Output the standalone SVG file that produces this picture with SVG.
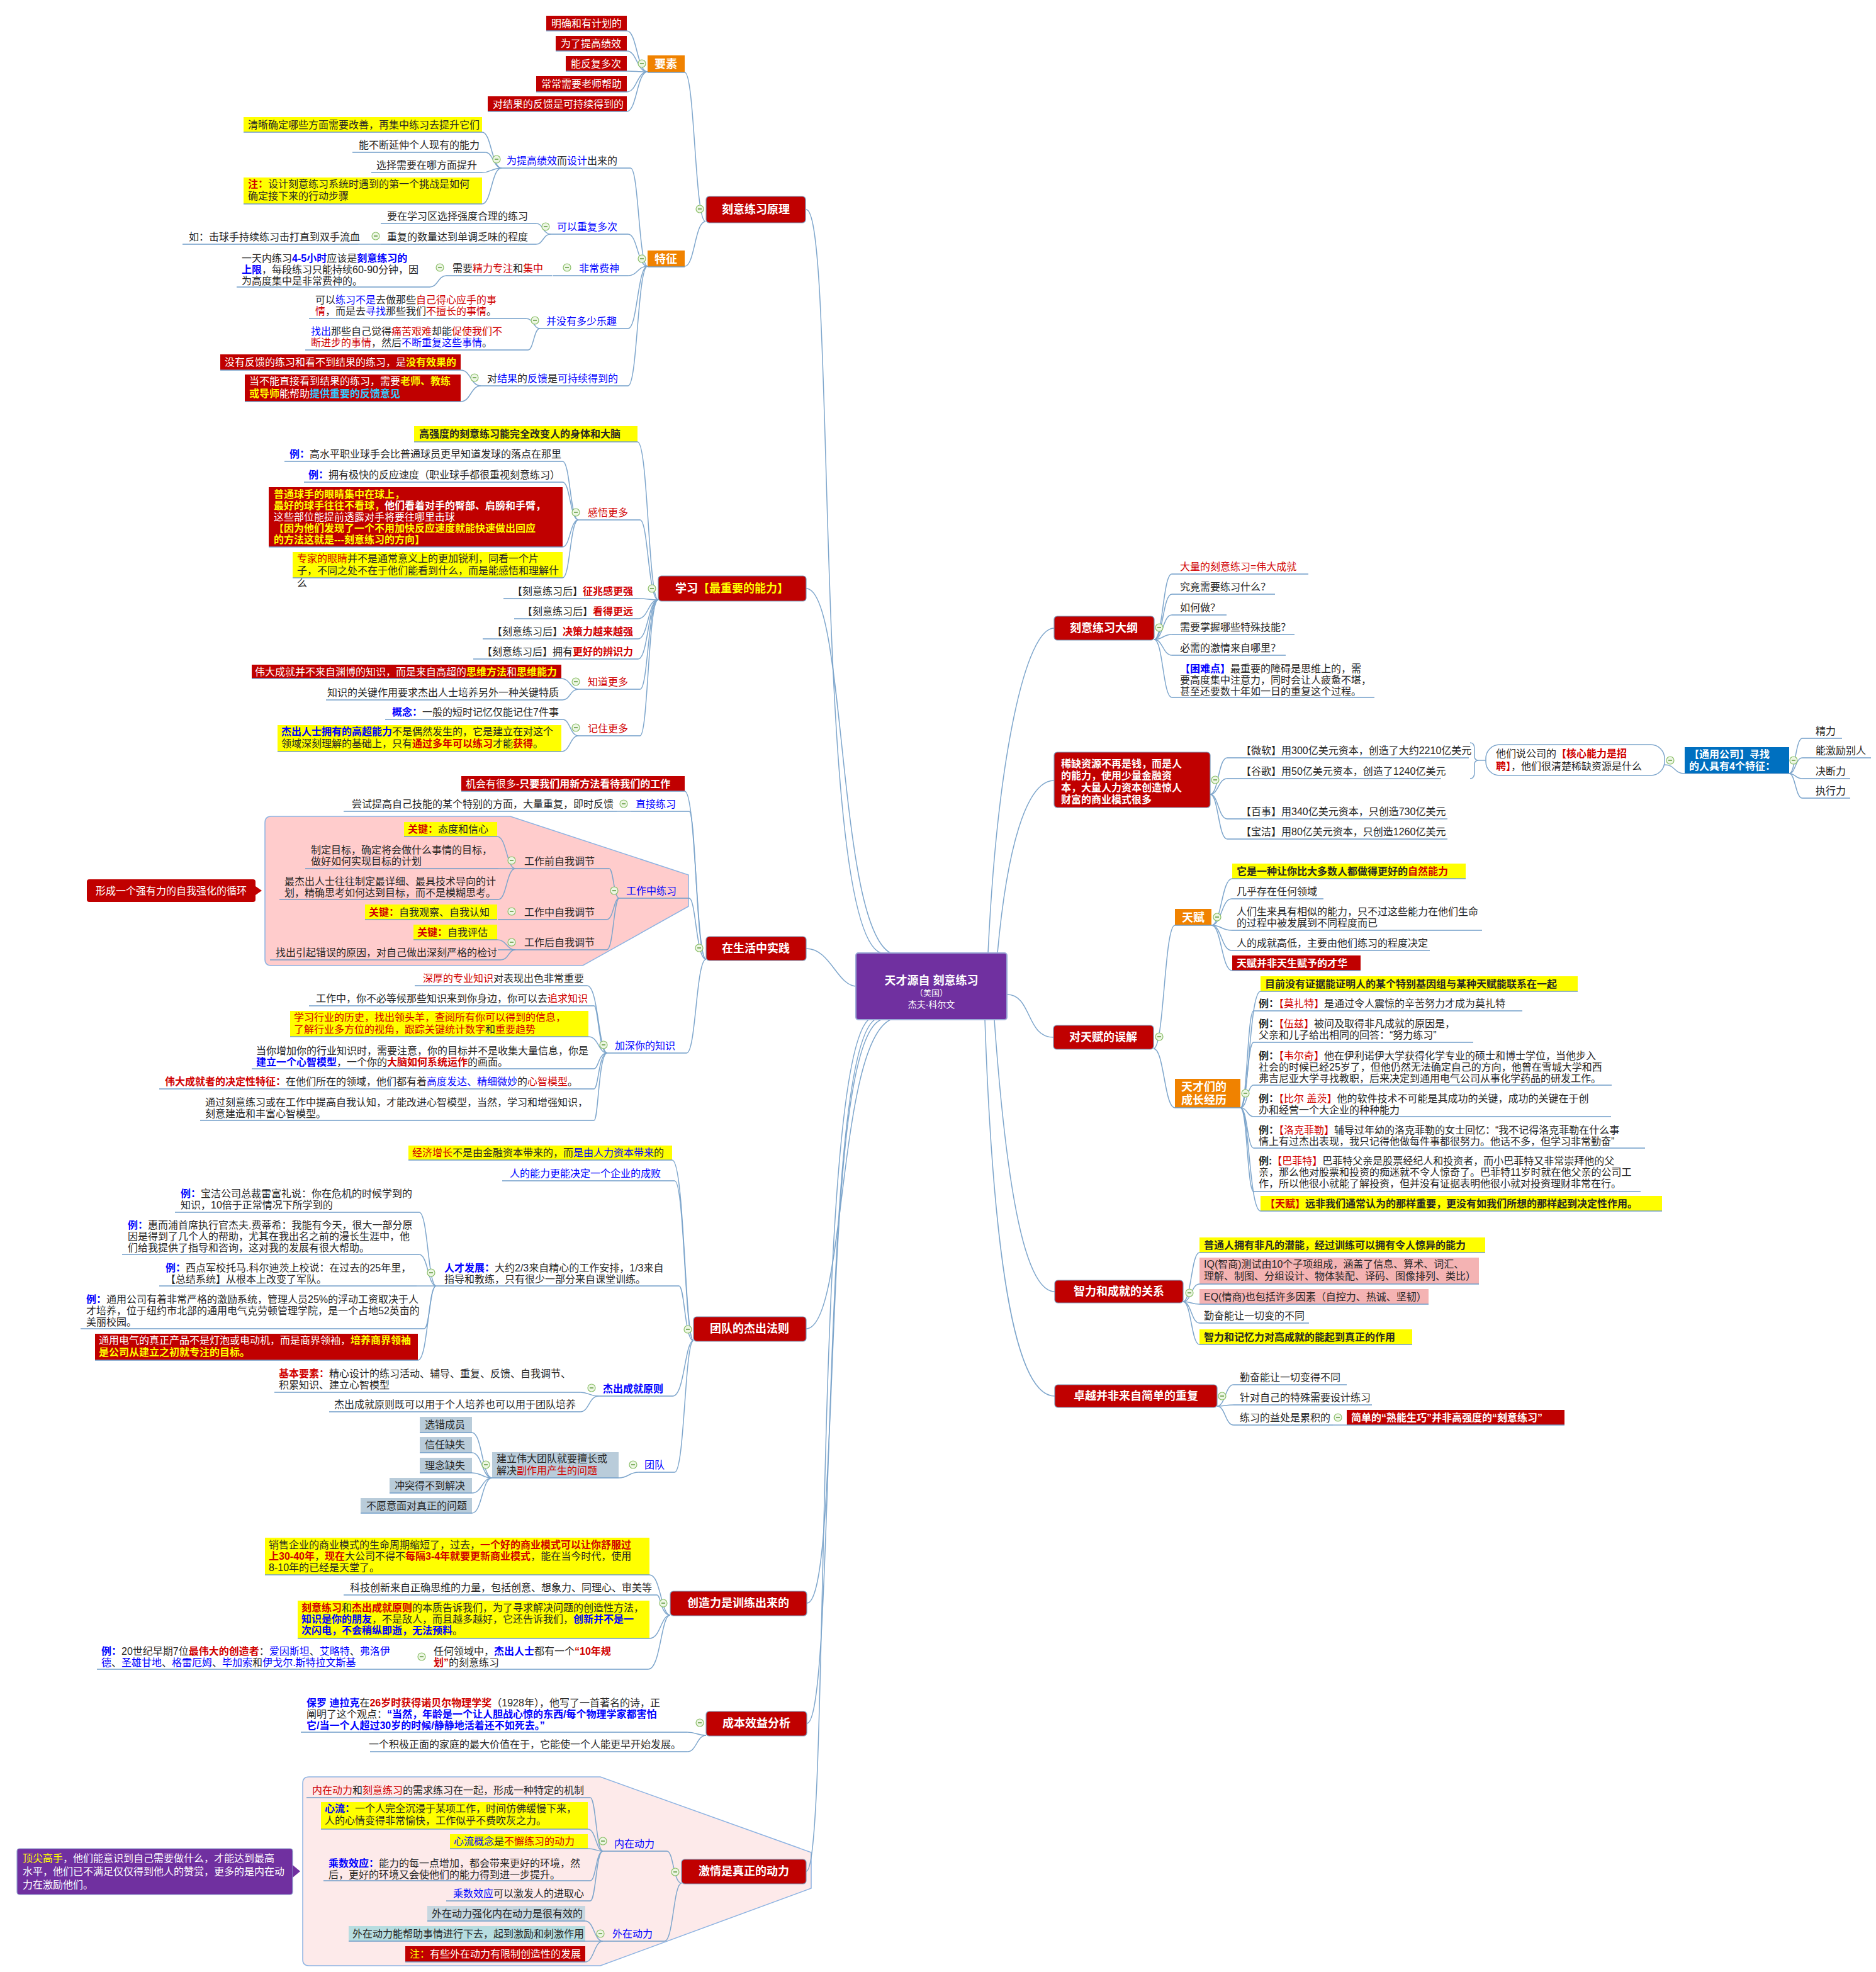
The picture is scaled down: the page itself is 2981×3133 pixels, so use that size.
<svg xmlns="http://www.w3.org/2000/svg" xmlns:xlink="http://www.w3.org/1999/xlink" width="2981" height="3133" viewBox="0 0 2981 3133">
<style>
text{font-family:"Liberation Sans","Noto Sans CJK SC",sans-serif;font-size:16px;fill:#262626}
.b{font-weight:bold}
.r{fill:#D00000}
.bl{fill:#0000FF}
.yl{fill:#FFFF00}
.wh{fill:#FFFFFF}
.cy{fill:#33CCFF}
.mt{font-size:18px;font-weight:bold;fill:#FFFFFF}
.ul{stroke:#6F9CC8;stroke-width:1.5;fill:none}
.cn{stroke:#7EA6CC;stroke-width:1.5;fill:none}
.mn{fill:#C00000;stroke:#7A98B8;stroke-width:1.2}
.rb{fill:#C00000}
.yb{fill:#FFFF00}
.ob{fill:#F08200}
.gb{fill:#B9CCDA}
.pk{fill:#F4B3B3}
</style>
<defs>
<g id="m"><circle r="6" fill="#EDF6E4" stroke="#8CBF6A" stroke-width="1.2"/><line x1="-3" y1="0" x2="3" y2="0" stroke="#5E9A3C" stroke-width="1.5"/></g>
</defs>
<rect width="2981" height="3133" fill="#FFFFFF"/>

<!-- boundaries -->
<path d="M431 1297 L811 1297 L1094 1390 L1094 1440 L926 1534 L431 1534 Q421 1534 421 1524 L421 1307 Q421 1297 431 1297 Z" fill="#FFCCCC" stroke="#8DB3E2" stroke-width="1.5"/>
<path d="M491 2823 L954 2823 L1289 2943 L1289 3000 L954 3123 L491 3123 Q481 3123 481 3113 L481 2833 Q481 2823 491 2823 Z" fill="#FDEAEA" stroke="#8DB3E2" stroke-width="1.5"/>

<g id="connectors">
<!-- center to left -->
<path class="cn" d="M1281 333C1330 333 1290 1480 1400 1514"/>
<path class="cn" d="M1281 935C1345 935 1330 1470 1415 1514"/>
<path class="cn" d="M1281 1507C1320 1507 1330 1567 1362 1567"/>
<path class="cn" d="M1281 2111C1345 2111 1330 1660 1415 1620"/>
<path class="cn" d="M1282 2547C1340 2547 1300 1660 1400 1620"/>
<path class="cn" d="M1282 2738C1330 2738 1300 1680 1390 1620"/>
<path class="cn" d="M1281 2973C1320 2973 1290 1700 1380 1620"/>
<!-- center to right -->
<path class="cn" d="M1570 1514C1585 1200 1630 998 1675 998"/>
<path class="cn" d="M1585 1514C1600 1350 1630 1240 1675 1240"/>
<path class="cn" d="M1600 1580C1640 1580 1630 1648 1674 1648"/>
<path class="cn" d="M1580 1620C1600 1900 1630 2052 1676 2052"/>
<path class="cn" d="M1565 1620C1580 2050 1620 2218 1676 2218"/>
<!-- branch 1 -->
<path class="cn" d="M1121 352C1104 352 1104 115 1088 115"/>
<path class="cn" d="M1121 352C1104 352 1104 423 1088 423"/>
<path class="cn" d="M1029 114C1012 114 1012 49 996 49"/>
<path class="cn" d="M1029 114C1012 114 1012 81 996 81"/>
<path class="cn" d="M1029 114C1012 114 1012 113 996 113"/>
<path class="cn" d="M1029 114C1012 114 1012 146 996 146"/>
<path class="cn" d="M1029 114C1012 114 1012 177 996 177"/>
<path class="cn" d="M1029 423C1015 423 1015 267 1002 267"/>
<path class="cn" d="M1029 423C1013 423 1013 372 998 372"/>
<path class="cn" d="M1029 423C1013 423 1013 438 998 438"/>
<path class="cn" d="M1029 423C1013 423 1013 522 998 522"/>
<path class="cn" d="M1029 423C1013 423 1013 613 998 613"/>
<path class="cn" d="M797 267C781 267 781 210 766 210"/>
<path class="cn" d="M797 267C784 267 784 242 771 242"/>
<path class="cn" d="M797 267C781 267 781 274 766 274"/>
<path class="cn" d="M797 267C781 267 781 324 766 324"/>
<path class="cn" d="M875 372C863 372 863 355 852 355"/>
<path class="cn" d="M875 372C863 372 863 388 852 388"/>
<path class="cn" d="M605 388L569 388"/>
<path class="cn" d="M709 438C696 438 696 456 683 456"/>
<path class="cn" d="M858 522C848 522 848 506 836 506"/>
<path class="cn" d="M858 522C848 522 848 556 839 556"/>
<path class="cn" d="M764 613C748 613 748 588 732 588"/>
<path class="cn" d="M764 613C748 613 748 638 732 638"/>
<!-- branch 2 -->
<path class="cn" d="M1046 953C1030 953 1030 702 1013 702"/>
<path class="cn" d="M1046 953C1030 953 1030 826 1017 826"/>
<path class="cn" d="M1046 953C1030 953 1030 951 1013 951"/>
<path class="cn" d="M1046 953C1030 953 1030 983 1014 983"/>
<path class="cn" d="M1046 953C1030 953 1030 1015 1014 1015"/>
<path class="cn" d="M1046 953C1030 953 1030 1047 1014 1047"/>
<path class="cn" d="M1046 953C1030 953 1030 1095 1017 1095"/>
<path class="cn" d="M1046 953C1030 953 1030 1169 1017 1169"/>
<path class="cn" d="M919 826C906 826 906 733 894 733"/>
<path class="cn" d="M919 826C906 826 906 766 894 766"/>
<path class="cn" d="M919 826C906 826 906 869 894 869"/>
<path class="cn" d="M919 826C906 826 906 918 894 918"/>
<path class="cn" d="M919 1095C906 1095 906 1078 892 1078"/>
<path class="cn" d="M919 1095C906 1095 906 1112 894 1112"/>
<path class="cn" d="M919 1169C906 1169 906 1143 894 1143"/>
<path class="cn" d="M919 1169C906 1169 906 1194 892 1194"/>
<!-- branch 3 -->
<path class="cn" d="M1122 1524C1106 1524 1106 1257 1088 1257"/>
<path class="cn" d="M1122 1524C1106 1524 1106 1289 1095 1289"/>
<path class="cn" d="M1122 1524C1106 1524 1106 1427 1095 1427"/>
<path class="cn" d="M1122 1524C1106 1524 1106 1673 1091 1673"/>
<path class="cn" d="M1003 1289L980 1289"/>
<path class="cn" d="M984 1427C975 1427 975 1380 968 1380"/>
<path class="cn" d="M984 1427C975 1427 975 1461 964 1461"/>
<path class="cn" d="M984 1427C975 1427 975 1509 964 1509"/>
<path class="cn" d="M819 1380C805 1380 805 1329 790 1329"/>
<path class="cn" d="M819 1380L792 1380"/>
<path class="cn" d="M819 1380C805 1380 805 1429 792 1429"/>
<path class="cn" d="M819 1509C805 1509 805 1493 790 1493"/>
<path class="cn" d="M819 1509C808 1509 808 1525 796 1525"/>
<path class="cn" d="M965 1673C951 1673 951 1566 933 1566"/>
<path class="cn" d="M965 1673C951 1673 951 1598 944 1598"/>
<path class="cn" d="M965 1673C951 1673 951 1647 935 1647"/>
<path class="cn" d="M965 1673C951 1673 951 1698 944 1698"/>
<path class="cn" d="M965 1673C951 1673 951 1730 944 1730"/>
<path class="cn" d="M965 1673C951 1673 951 1780 944 1780"/>
<!-- branch 4 -->
<path class="cn" d="M1102 2130C1088 2130 1088 1843 1068 1843"/>
<path class="cn" d="M1102 2130C1088 2130 1088 1876 1072 1876"/>
<path class="cn" d="M1102 2130C1088 2130 1088 2043 1079 2043"/>
<path class="cn" d="M1102 2130C1088 2130 1088 2218 1069 2218"/>
<path class="cn" d="M1102 2130C1088 2130 1088 2339 1072 2339"/>
<path class="cn" d="M693 2043C680 2043 680 1926 666 1926"/>
<path class="cn" d="M693 2043C680 2043 680 1993 666 1993"/>
<path class="cn" d="M693 2043L662 2043"/>
<path class="cn" d="M693 2043C683 2043 683 2111 674 2111"/>
<path class="cn" d="M693 2043C680 2043 680 2161 664 2161"/>
<path class="cn" d="M951 2218C936 2218 936 2212 922 2212"/>
<path class="cn" d="M951 2218C936 2218 936 2243 922 2243"/>
<path class="cn" d="M1015 2339C999 2339 999 2348 983 2348"/>
<path class="cn" d="M782 2348C766 2348 766 2276 750 2276"/>
<path class="cn" d="M782 2348C766 2348 766 2308 750 2308"/>
<path class="cn" d="M782 2348C766 2348 766 2340 750 2340"/>
<path class="cn" d="M782 2348C766 2348 766 2372 750 2372"/>
<path class="cn" d="M782 2348C766 2348 766 2404 750 2404"/>
<!-- branch 5 -->
<path class="cn" d="M1065 2566C1050 2566 1050 2502 1032 2502"/>
<path class="cn" d="M1065 2566C1050 2566 1050 2534 1044 2534"/>
<path class="cn" d="M1065 2566C1050 2566 1050 2603 1032 2603"/>
<path class="cn" d="M1065 2566C1050 2566 1050 2652 1030 2652"/>
<!-- branch 6 -->
<path class="cn" d="M1122 2757C1107 2757 1107 2752 1092 2752"/>
<path class="cn" d="M1122 2757C1107 2757 1107 2783 1092 2783"/>
<!-- branch 7 -->
<path class="cn" d="M1083 2992C1070 2992 1070 2941 1060 2941"/>
<path class="cn" d="M1083 2992C1070 2992 1070 3084 1056 3084"/>
<path class="cn" d="M958 2941C947 2941 947 2856 938 2856"/>
<path class="cn" d="M958 2941C947 2941 947 2906 934 2906"/>
<path class="cn" d="M958 2941C947 2941 947 2937 934 2937"/>
<path class="cn" d="M958 2941C947 2941 947 2988 938 2988"/>
<path class="cn" d="M958 2941C947 2941 947 3020 938 3020"/>
<path class="cn" d="M958 3084C944 3084 944 3052 930 3052"/>
<path class="cn" d="M958 3084L930 3084"/>
<path class="cn" d="M958 3084C944 3084 944 3117 930 3117"/>
<!-- right: 大纲 -->
<path class="cn" d="M1834 1016C1848 1016 1848 912 1862 912"/>
<path class="cn" d="M1834 1016C1848 1016 1848 944 1862 944"/>
<path class="cn" d="M1834 1016C1848 1016 1848 977 1862 977"/>
<path class="cn" d="M1834 1016C1848 1016 1848 1008 1862 1008"/>
<path class="cn" d="M1834 1016C1848 1016 1848 1041 1862 1041"/>
<path class="cn" d="M1834 1016C1848 1016 1848 1108 1862 1108"/>
<!-- right: 稀缺 -->
<path class="cn" d="M1923 1262C1936 1262 1936 1204 1950 1204"/>
<path class="cn" d="M1923 1262C1936 1262 1936 1237 1950 1237"/>
<path class="cn" d="M1923 1262C1936 1262 1936 1301 1950 1301"/>
<path class="cn" d="M1923 1262C1936 1262 1936 1333 1950 1333"/>
<path class="cn" d="M2336 1180Q2343 1180 2343 1190L2343 1202Q2343 1208 2350 1208Q2343 1208 2343 1214L2343 1227Q2343 1237 2336 1237"/>
<path class="cn" d="M2350 1208L2361 1208"/>
<path class="cn" d="M2645 1215C2662 1215 2660 1229 2677 1229"/>
<path class="cn" d="M2843 1229C2853 1229 2853 1173 2864 1173"/>
<path class="cn" d="M2843 1229C2853 1229 2853 1204 2864 1204"/>
<path class="cn" d="M2843 1229C2853 1229 2853 1237 2864 1237"/>
<path class="cn" d="M2843 1229C2853 1229 2853 1268 2864 1268"/>
<!-- right: 对天赋 -->
<path class="cn" d="M1833 1666C1850 1666 1850 1470 1867 1470"/>
<path class="cn" d="M1833 1666C1850 1666 1850 1760 1867 1760"/>
<path class="cn" d="M1925 1470C1941 1470 1941 1396 1958 1396"/>
<path class="cn" d="M1925 1470C1941 1470 1941 1428 1957 1428"/>
<path class="cn" d="M1925 1470C1941 1470 1941 1478 1957 1478"/>
<path class="cn" d="M1925 1470C1941 1470 1941 1510 1957 1510"/>
<path class="cn" d="M1925 1470C1941 1470 1941 1542 1958 1542"/>
<path class="cn" d="M1971 1760C1985 1760 1985 1575 2003 1575"/>
<path class="cn" d="M1971 1760C1982 1760 1982 1606 1992 1606"/>
<path class="cn" d="M1971 1760C1982 1760 1982 1656 1992 1656"/>
<path class="cn" d="M1971 1760C1982 1760 1982 1724 1992 1724"/>
<path class="cn" d="M1971 1760C1982 1760 1982 1774 1992 1774"/>
<path class="cn" d="M1971 1760C1982 1760 1982 1824 1992 1824"/>
<path class="cn" d="M1971 1760C1982 1760 1982 1893 1992 1893"/>
<path class="cn" d="M1971 1760C1985 1760 1985 1924 2003 1924"/>
<!-- right: 智力 -->
<path class="cn" d="M1880 2068C1893 2068 1893 1990 1906 1990"/>
<path class="cn" d="M1880 2068C1893 2068 1893 2040 1906 2040"/>
<path class="cn" d="M1880 2068C1893 2068 1893 2072 1906 2072"/>
<path class="cn" d="M1880 2068C1893 2068 1893 2102 1906 2102"/>
<path class="cn" d="M1880 2068C1893 2068 1893 2136 1906 2136"/>
<!-- right: 卓越 -->
<path class="cn" d="M1934 2234C1947 2234 1947 2200 1960 2200"/>
<path class="cn" d="M1934 2234C1947 2234 1947 2232 1960 2232"/>
<path class="cn" d="M1934 2234C1947 2234 1947 2264 1960 2264"/>
<path class="cn" d="M2118 2264L2140 2264"/>
</g>

<!-- center -->
<g id="center">
<rect x="1360" y="1514" width="240" height="106" rx="4" fill="#7030A0" stroke="#9AA9D6" stroke-width="2"/>
<text x="1480" y="1564" text-anchor="middle" class="b" style="font-size:18px;fill:#fff">天才源自 刻意练习</text>
<text x="1480" y="1582" text-anchor="middle" style="font-size:13px;fill:#fff">（美国）</text>
<text x="1480" y="1601" text-anchor="middle" style="font-size:14px;fill:#fff">杰夫·科尔文</text>
</g>

<!-- ============ Branch 1 ============ -->
<g id="n_yuanli"><rect class="mn" x="1122" y="312" width="158" height="42" rx="5"/><text class="mt" x="1201" y="339" text-anchor="middle">刻意练习原理</text></g>
<g id="n_yaosu"><rect class="ob" x="1029" y="88" width="59" height="27"/><line class="ul" x1="1029" y1="115" x2="1088" y2="115"/><text class="mt" x="1040" y="108">要素</text></g>
<g id="n_ys1"><rect class="rb" x="868" y="25" width="128" height="24"/><line class="ul" x1="868" y1="49" x2="996" y2="49"/><text class="wh" x="876" y="43">明确和有计划的</text></g>
<g id="n_ys2"><rect class="rb" x="883" y="57" width="113" height="24"/><line class="ul" x1="883" y1="81" x2="996" y2="81"/><text class="wh" x="891" y="75">为了提高绩效</text></g>
<g id="n_ys3"><rect class="rb" x="899" y="89" width="97" height="24"/><line class="ul" x1="899" y1="113" x2="996" y2="113"/><text class="wh" x="907" y="107">能反复多次</text></g>
<g id="n_ys4"><rect class="rb" x="852" y="121" width="144" height="25"/><line class="ul" x1="852" y1="146" x2="996" y2="146"/><text class="wh" x="860" y="139">常常需要老师帮助</text></g>
<g id="n_ys5"><rect class="rb" x="775" y="153" width="221" height="24"/><line class="ul" x1="775" y1="177" x2="996" y2="177"/><text class="wh" x="783" y="171">对结果的反馈是可持续得到的</text></g>

<g id="n_tezheng"><rect class="ob" x="1029" y="398" width="59" height="26"/><line class="ul" x1="1029" y1="424" x2="1088" y2="424"/><text class="mt" x="1040" y="418">特征</text></g>
<g id="n_sheji"><text x="805" y="261"><tspan class="bl">为提高绩效</tspan>而<tspan class="bl">设计</tspan>出来的</text><line class="ul" x1="797" y1="267" x2="1002" y2="267"/></g>
<g id="n_sj1"><rect class="yb" x="387" y="186" width="379" height="24"/><line class="ul" x1="387" y1="210" x2="766" y2="210"/><text x="394" y="204">清晰确定哪些方面需要改善，再集中练习去提升它们</text></g>
<g id="n_sj2"><text x="762" y="236" text-anchor="end">能不断延伸个人现有的能力</text><line class="ul" x1="560" y1="242" x2="771" y2="242"/></g>
<g id="n_sj3"><text x="758" y="268" text-anchor="end">选择需要在哪方面提升</text><line class="ul" x1="590" y1="274" x2="766" y2="274"/></g>
<g id="n_sj4"><rect class="yb" x="387" y="282" width="379" height="42"/><line class="ul" x1="387" y1="324" x2="766" y2="324"/><text x="394" y="298"><tspan class="r b">注：</tspan>设计刻意练习系统时遇到的第一个挑战是如何</text><text x="394" y="317">确定接下来的行动步骤</text></g>
<g id="n_cf"><text class="bl" x="885" y="366">可以重复多次</text><line class="ul" x1="875" y1="372" x2="998" y2="372"/></g>
<g id="n_cf1"><text x="615" y="349">要在学习区选择强度合理的练习</text><line class="ul" x1="605" y1="355" x2="852" y2="355"/></g>
<g id="n_cf2"><text x="615" y="382">重复的数量达到单调乏味的程度</text><line class="ul" x1="605" y1="388" x2="852" y2="388"/></g>
<g id="n_cf3"><text x="300" y="382">如：击球手持续练习击打直到双手流血</text><line class="ul" x1="290" y1="388" x2="569" y2="388"/></g>
<g id="n_fs"><text class="bl" x="920" y="432">非常费神</text><line class="ul" x1="878" y1="438" x2="998" y2="438"/></g>
<g id="n_fs1"><text x="719" y="432">需要<tspan class="r">精力专注</tspan>和<tspan class="r">集中</tspan></text><line class="ul" x1="709" y1="438" x2="877" y2="438"/></g>
<g id="n_fs2"><text x="384" y="416">一天内练习<tspan class="bl b">4-5小时</tspan>应该是<tspan class="bl b">刻意练习的</tspan></text><text x="384" y="434"><tspan class="bl b">上限</tspan>，每段练习只能持续60-90分钟，因</text><text x="384" y="452">为高度集中是非常费神的。</text><line class="ul" x1="376" y1="456" x2="683" y2="456"/></g>
<g id="n_lq"><text class="bl" x="868" y="516">并没有多少乐趣</text><line class="ul" x1="858" y1="522" x2="998" y2="522"/></g>
<g id="n_lq1"><text x="501" y="482">可以<tspan class="bl">练习不是</tspan>去做那些<tspan class="r">自己得心应手的事</tspan></text><text x="501" y="500"><tspan class="r">情</tspan>，而是去<tspan class="bl">寻找</tspan>那些我们<tspan class="r">不擅长的事情</tspan>。</text><line class="ul" x1="491" y1="506" x2="836" y2="506"/></g>
<g id="n_lq2"><text x="494" y="532"><tspan class="bl">找出</tspan>那些自己觉得<tspan class="r">痛苦艰难</tspan>却能<tspan class="r">促使我们不</tspan></text><text x="494" y="550"><tspan class="r">断进步的事情</tspan>，然后<tspan class="bl">不断重复这些事情</tspan>。</text><line class="ul" x1="485" y1="556" x2="839" y2="556"/></g>
<g id="n_fk"><text x="774" y="607">对<tspan class="bl">结果</tspan>的<tspan class="bl">反馈</tspan>是<tspan class="bl">可持续得到的</tspan></text><line class="ul" x1="764" y1="613" x2="998" y2="613"/></g>
<g id="n_fk1"><rect class="rb" x="350" y="563" width="382" height="25"/><line class="ul" x1="350" y1="588" x2="732" y2="588"/><text class="wh" x="357" y="581">没有反馈的练习和看不到结果的练习，是<tspan class="yl b">没有效果的</tspan></text></g>
<g id="n_fk2"><rect class="rb" x="389" y="595" width="343" height="43"/><line class="ul" x1="389" y1="638" x2="732" y2="638"/><text class="wh" x="396" y="611">当不能直接看到结果的练习，需要<tspan class="yl b">老师、教练</tspan></text><text class="wh" x="396" y="631"><tspan class="yl b">或导师</tspan>能帮助<tspan class="cy b">提供重要的反馈意见</tspan></text></g>

<!-- ============ Branch 2 ============ -->
<g id="n_xuexi"><rect class="mn" x="1046" y="915" width="235" height="40" rx="5"/><text class="mt" x="1163" y="941" text-anchor="middle">学习<tspan class="yl">【最重要的能力】</tspan></text></g>
<g id="n_xx0"><rect class="yb" x="658" y="677" width="355" height="25"/><line class="ul" x1="658" y1="702" x2="1013" y2="702"/><text class="b" x="666" y="695">高强度的刻意练习能完全改变人的身体和大脑</text></g>
<g id="n_gw"><text class="r" x="934" y="820">感悟更多</text><line class="ul" x1="919" y1="826" x2="1017" y2="826"/></g>
<g id="n_gw1"><text x="460" y="727"><tspan class="bl b">例：</tspan>高水平职业球手会比普通球员更早知道发球的落点在那里</text><line class="ul" x1="452" y1="733" x2="894" y2="733"/></g>
<g id="n_gw2"><text x="490" y="760"><tspan class="bl b">例：</tspan>拥有极快的反应速度（职业球手都很重视刻意练习）</text><line class="ul" x1="483" y1="766" x2="894" y2="766"/></g>
<g id="n_gw3"><rect class="rb" x="427" y="774" width="467" height="95"/><line class="ul" x1="427" y1="869" x2="894" y2="869"/>
<text class="yl b" x="435" y="791">普通球手的眼睛集中在球上，</text>
<text x="435" y="809"><tspan class="yl b">最好的球手往往不看球，</tspan><tspan class="wh b">他们看着对手的臀部、肩膀和手臂，</tspan></text>
<text class="wh" x="435" y="827">这些部位能提前透露对手将要往哪里击球</text>
<text class="yl b" x="435" y="845">【因为他们发现了一个不用加快反应速度就能快速做出回应</text>
<text class="yl b" x="435" y="863">的方法这就是---刻意练习的方向】</text></g>
<g id="n_gw4"><rect class="yb" x="465" y="877" width="429" height="41"/><line class="ul" x1="465" y1="918" x2="894" y2="918"/><text x="472" y="893"><tspan class="r">专家的眼睛</tspan>并不是通常意义上的更加锐利，同看一个片</text><text x="472" y="912">子，不同之处不在于他们能看到什么，而是能感悟和理解什</text><text x="472" y="932">么</text></g>
<g id="n_xx2"><text x="1006" y="945" text-anchor="end">【刻意练习后】<tspan class="r b">征兆感更强</tspan></text><line class="ul" x1="800" y1="951" x2="1013" y2="951"/></g>
<g id="n_xx3"><text x="1006" y="977" text-anchor="end">【刻意练习后】<tspan class="r b">看得更远</tspan></text><line class="ul" x1="817" y1="983" x2="1014" y2="983"/></g>
<g id="n_xx4"><text x="1006" y="1009" text-anchor="end">【刻意练习后】<tspan class="r b">决策力越来越强</tspan></text><line class="ul" x1="767" y1="1015" x2="1014" y2="1015"/></g>
<g id="n_xx5"><text x="1006" y="1041" text-anchor="end">【刻意练习后】拥有<tspan class="r b">更好的辨识力</tspan></text><line class="ul" x1="752" y1="1047" x2="1014" y2="1047"/></g>
<g id="n_zd"><text class="r" x="934" y="1089">知道更多</text><line class="ul" x1="919" y1="1095" x2="1017" y2="1095"/></g>
<g id="n_zd1"><rect class="rb" x="400" y="1056" width="492" height="22"/><line class="ul" x1="400" y1="1078" x2="892" y2="1078"/><text class="wh" x="405" y="1073">伟大成就并不来自渊博的知识，而是来自高超的<tspan class="yl b">思维方法</tspan>和<tspan class="yl b">思维能力</tspan></text></g>
<g id="n_zd2"><text x="888" y="1106" text-anchor="end">知识的关键作用要求杰出人士培养另外一种关键特质</text><line class="ul" x1="518" y1="1112" x2="894" y2="1112"/></g>
<g id="n_jz"><text class="r" x="934" y="1163">记住更多</text><line class="ul" x1="919" y1="1169" x2="1017" y2="1169"/></g>
<g id="n_jz1"><text x="888" y="1137" text-anchor="end"><tspan class="bl b">概念：</tspan>一般的短时记忆仅能记住7件事</text><line class="ul" x1="612" y1="1143" x2="894" y2="1143"/></g>
<g id="n_jz2"><rect class="yb" x="441" y="1152" width="451" height="42"/><line class="ul" x1="441" y1="1194" x2="892" y2="1194"/><text x="447" y="1168"><tspan class="bl b">杰出人士拥有的高超能力</tspan>不是偶然发生的，它是建立在对这个</text><text x="447" y="1187">领域深刻理解的基础上，只有<tspan class="r b">通过多年可以练习</tspan>才能<tspan class="r b">获得</tspan>。</text></g>

<!-- ============ Branch 3 ============ -->
<g id="n_shijian"><rect class="mn" x="1122" y="1488" width="159" height="38" rx="5"/><text class="mt" x="1201" y="1513" text-anchor="middle">在生活中实践</text></g>
<g id="n_sj_a"><rect class="rb" x="733" y="1233" width="355" height="24"/><line class="ul" x1="733" y1="1257" x2="1088" y2="1257"/><text class="wh" x="740" y="1251">机会有很多-<tspan class="b">只要我们用新方法看待我们的工作</tspan></text></g>
<g id="n_zj"><text class="bl" x="1010" y="1283">直接练习</text><line class="ul" x1="1003" y1="1289" x2="1095" y2="1289"/></g>
<g id="n_zj1"><text x="975" y="1283" text-anchor="end">尝试提高自己技能的某个特别的方面，大量重复，即时反馈</text><line class="ul" x1="546" y1="1289" x2="980" y2="1289"/></g>
<g id="n_gz"><text class="bl" x="995" y="1421">工作中练习</text><line class="ul" x1="984" y1="1427" x2="1095" y2="1427"/></g>
<g id="n_gzq"><text x="833" y="1374">工作前自我调节</text><line class="ul" x1="819" y1="1380" x2="968" y2="1380"/></g>
<g id="n_gzq1"><rect class="yb" x="642" y="1306" width="148" height="23"/><line class="ul" x1="642" y1="1329" x2="790" y2="1329"/><text x="648" y="1323"><tspan class="r b">关键：</tspan>态度和信心</text></g>
<g id="n_gzq2"><text x="494" y="1356">制定目标，确定将会做什么事情的目标，</text><text x="494" y="1374">做好如何实现目标的计划</text><line class="ul" x1="485" y1="1380" x2="792" y2="1380"/></g>
<g id="n_gzq3"><text x="452" y="1406">最杰出人士往往制定最详细、最具技术导向的计</text><text x="452" y="1424">划，精确思考如何达到目标，而不是模糊思考。</text><line class="ul" x1="444" y1="1429" x2="792" y2="1429"/></g>
<g id="n_gzz"><text x="833" y="1455">工作中自我调节</text><line class="ul" x1="791" y1="1461" x2="964" y2="1461"/></g>
<g id="n_gzz1"><rect class="yb" x="580" y="1437" width="210" height="24"/><line class="ul" x1="580" y1="1461" x2="790" y2="1461"/><text x="586" y="1455"><tspan class="r b">关键：</tspan>自我观察、自我认知</text></g>
<g id="n_gzh"><text x="833" y="1503">工作后自我调节</text><line class="ul" x1="791" y1="1509" x2="964" y2="1509"/></g>
<g id="n_gzh1"><rect class="yb" x="657" y="1469" width="133" height="24"/><line class="ul" x1="657" y1="1493" x2="790" y2="1493"/><text x="663" y="1487"><tspan class="r b">关键：</tspan>自我评估</text></g>
<g id="n_gzh2"><text x="790" y="1519" text-anchor="end">找出引起错误的原因，对自己做出深刻严格的检讨</text><line class="ul" x1="429" y1="1525" x2="796" y2="1525"/></g>
<g id="n_xh"><rect class="rb" x="138" y="1397" width="268" height="36" rx="4"/><path d="M406 1408 L416 1415 L406 1422 Z" fill="#C00000"/><text class="wh" x="152" y="1421">形成一个强有力的自我强化的循环</text></g>
<g id="n_js"><text class="bl" x="977" y="1667">加深你的知识</text><line class="ul" x1="965" y1="1673" x2="1091" y2="1673"/></g>
<g id="n_js1"><text x="928" y="1560" text-anchor="end"><tspan class="r">深厚的专业知识</tspan>对表现出色非常重要</text><line class="ul" x1="659" y1="1566" x2="933" y2="1566"/></g>
<g id="n_js2"><text x="934" y="1592" text-anchor="end">工作中，你不必等候那些知识来到你身边，你可以去<tspan class="r">追求知识</tspan></text><line class="ul" x1="491" y1="1598" x2="944" y2="1598"/></g>
<g id="n_js3"><rect class="yb" x="461" y="1606" width="474" height="41"/><line class="ul" x1="461" y1="1647" x2="935" y2="1647"/><text class="r" x="467" y="1622">学习行业的历史，找出领头羊，查阅所有你可以得到的信息，</text><text x="467" y="1641"><tspan class="r">了解行业多方位的视角，跟踪关键统计数字</tspan>和<tspan class="r">重要趋势</tspan></text></g>
<g id="n_js4"><text x="407" y="1675">当你增加你的行业知识时，需要注意，你的目标并不是收集大量信息，你是</text><text x="407" y="1693"><tspan class="bl b">建立一个心智模型</tspan>，一个你的<tspan class="r b">大脑如何系统运作</tspan>的画面。</text><line class="ul" x1="400" y1="1698" x2="944" y2="1698"/></g>
<g id="n_js5"><text x="262" y="1724"><tspan class="r b">伟大成就者的决定性特征：</tspan>在他们所在的领域，他们都有着<tspan class="bl">高度发达、精细微妙</tspan>的<tspan class="r">心智模型</tspan>。</text><line class="ul" x1="253" y1="1730" x2="944" y2="1730"/></g>
<g id="n_js6"><text x="326" y="1757">通过刻意练习或在工作中提高自我认知，才能改进心智模型，当然，学习和增强知识，</text><text x="326" y="1775">刻意建造和丰富心智模型。</text><line class="ul" x1="318" y1="1780" x2="944" y2="1780"/></g>

<!-- ============ Branch 4 ============ -->
<g id="n_tuandui"><rect class="mn" x="1102" y="2092" width="179" height="39" rx="5"/><text class="mt" x="1191" y="2117" text-anchor="middle">团队的杰出法则</text></g>
<g id="n_td1"><rect class="yb" x="649" y="1820" width="419" height="23"/><line class="ul" x1="649" y1="1843" x2="1068" y2="1843"/><text x="655" y="1837"><tspan class="r">经济增长</tspan>不是由金融资本带来的，而<tspan class="bl">是由人力资本带来</tspan>的</text></g>
<g id="n_td2"><text class="bl" x="1050" y="1870" text-anchor="end">人的能力更能决定一个企业的成败</text><line class="ul" x1="798" y1="1876" x2="1072" y2="1876"/></g>
<g id="n_rc"><text x="706" y="2020"><tspan class="bl b">人才发展：</tspan>大约2/3来自精心的工作安排，1/3来自</text><text x="706" y="2038">指导和教练，只有很少一部分来自课堂训练。</text><line class="ul" x1="693" y1="2043" x2="1079" y2="2043"/></g>
<g id="n_rc1"><text x="287" y="1902"><tspan class="bl b">例：</tspan>宝洁公司总裁雷富礼说：你在危机的时候学到的</text><text x="287" y="1920">知识，10倍于正常情况下所学到的</text><line class="ul" x1="278" y1="1926" x2="666" y2="1926"/></g>
<g id="n_rc2"><text x="203" y="1952"><tspan class="bl b">例：</tspan>惠而浦首席执行官杰夫.费蒂希：我能有今天，很大一部分原</text><text x="203" y="1970">因是得到了几个人的帮助，尤其在我出名之前的漫长生涯中，他</text><text x="203" y="1988">们给我提供了指导和咨询，这对我的发展有很大帮助。</text><line class="ul" x1="194" y1="1993" x2="666" y2="1993"/></g>
<g id="n_rc3"><text x="263" y="2020"><tspan class="bl b">例：</tspan>西点军校托马.科尔迪茨上校说：在过去的25年里，</text><text x="263" y="2038">【总结系统】从根本上改变了军队。</text><line class="ul" x1="253" y1="2043" x2="662" y2="2043"/></g>
<g id="n_rc4"><text x="137" y="2070"><tspan class="bl b">例：</tspan>通用公司有着非常严格的激励系统，管理人员25%的浮动工资取决于人</text><text x="137" y="2088">才培养，位于纽约市北部的通用电气克劳顿管理学院，是一个占地52英亩的</text><text x="137" y="2106">美丽校园。</text><line class="ul" x1="128" y1="2111" x2="674" y2="2111"/></g>
<g id="n_rc5"><rect class="rb" x="151" y="2119" width="513" height="42"/><line class="ul" x1="151" y1="2161" x2="664" y2="2161"/><text class="wh" x="157" y="2135">通用电气的真正产品不是灯泡或电动机，而是商界领袖，<tspan class="yl b">培养商界领袖</tspan></text><text class="yl b" x="157" y="2154">是公司从建立之初就专注的目标。</text></g>
<g id="n_jc"><text class="bl b" x="958" y="2212">杰出成就原则</text><line class="ul" x1="951" y1="2218" x2="1069" y2="2218"/></g>
<g id="n_jc1"><text x="443" y="2188"><tspan class="r b">基本要素：</tspan>精心设计的练习活动、辅导、重复、反馈、自我调节、</text><text x="443" y="2206">积累知识、建立心智模型</text><line class="ul" x1="436" y1="2212" x2="922" y2="2212"/></g>
<g id="n_jc2"><text x="915" y="2237" text-anchor="end">杰出成就原则既可以用于个人培养也可以用于团队培养</text><line class="ul" x1="523" y1="2243" x2="922" y2="2243"/></g>
<g id="n_tdd"><text class="bl" x="1024" y="2333">团队</text><line class="ul" x1="1015" y1="2339" x2="1072" y2="2339"/></g>
<g id="n_tdd1"><rect class="gb" x="782" y="2307" width="201" height="41"/><line class="ul" x1="782" y1="2348" x2="983" y2="2348"/><text x="789" y="2323">建立伟大团队就要擅长或</text><text x="789" y="2342">解决<tspan class="r">副作用产生的问题</tspan></text></g>
<g id="n_tdd2"><rect class="gb" x="667" y="2251" width="83" height="25"/><line class="ul" x1="667" y1="2276" x2="750" y2="2276"/><text x="675" y="2269">选错成员</text></g>
<g id="n_tdd3"><rect class="gb" x="667" y="2283" width="83" height="25"/><line class="ul" x1="667" y1="2308" x2="750" y2="2308"/><text x="675" y="2301">信任缺失</text></g>
<g id="n_tdd4"><rect class="gb" x="667" y="2316" width="83" height="24"/><line class="ul" x1="667" y1="2340" x2="750" y2="2340"/><text x="675" y="2334">理念缺失</text></g>
<g id="n_tdd5"><rect class="gb" x="619" y="2348" width="131" height="24"/><line class="ul" x1="619" y1="2372" x2="750" y2="2372"/><text x="627" y="2366">冲突得不到解决</text></g>
<g id="n_tdd6"><rect class="gb" x="573" y="2380" width="177" height="24"/><line class="ul" x1="573" y1="2404" x2="750" y2="2404"/><text x="582" y="2398">不愿意面对真正的问题</text></g>

<!-- ============ Branch 5 ============ -->
<g id="n_chuangzao"><rect class="mn" x="1065" y="2528" width="217" height="39" rx="5"/><text class="mt" x="1173" y="2553" text-anchor="middle">创造力是训练出来的</text></g>
<g id="n_cz1"><rect class="yb" x="421" y="2443" width="611" height="59"/><line class="ul" x1="421" y1="2502" x2="1032" y2="2502"/><text x="427" y="2460">销售企业的商业模式的生命周期缩短了，过去，<tspan class="r b">一个好的商业模式可以让你舒服过</tspan></text><text x="427" y="2478"><tspan class="r b">上30-40年</tspan>，<tspan class="r b">现在</tspan>大公司不得不<tspan class="r b">每隔3-4年就要更新商业模式</tspan>，能在当今时代，使用</text><text x="427" y="2496">8-10年的已经是天堂了。</text></g>
<g id="n_cz2"><text x="1036" y="2528" text-anchor="end">科技创新来自正确思维的力量，包括创意、想象力、同理心、审美等</text><line class="ul" x1="546" y1="2534" x2="1044" y2="2534"/></g>
<g id="n_cz3"><rect class="yb" x="473" y="2543" width="559" height="60"/><line class="ul" x1="473" y1="2603" x2="1032" y2="2603"/><text x="479" y="2560"><tspan class="r b">刻意练习</tspan>和<tspan class="r b">杰出成就原则</tspan>的本质告诉我们，为了寻求解决问题的创造性方法，</text><text x="479" y="2578"><tspan class="bl b">知识是你的朋友</tspan>，不是敌人，而且越多越好，它还告诉我们，<tspan class="bl b">创新并不是一</tspan></text><text x="479" y="2596"><tspan class="bl b">次闪电，不会稍纵即逝，无法预料</tspan>。</text></g>
<g id="n_cz4"><text x="689" y="2629">任何领域中，<tspan class="bl b">杰出人士</tspan>都有一个<tspan class="r b">“10年规</tspan></text><text x="689" y="2647"><tspan class="r b">划”</tspan>的刻意练习</text><line class="ul" x1="678" y1="2652" x2="1030" y2="2652"/></g>
<g id="n_cz5"><text x="161" y="2629"><tspan class="bl b">例：</tspan>20世纪早期7位<tspan class="r b">最伟大的创造者</tspan>：<tspan class="bl">爱因斯坦</tspan>、<tspan class="bl">艾略特</tspan>、<tspan class="bl">弗洛伊</tspan></text><text x="161" y="2647"><tspan class="bl">德</tspan>、<tspan class="bl">圣雄甘地</tspan>、<tspan class="bl">格雷厄姆</tspan>、<tspan class="bl">毕加索</tspan>和<tspan class="bl">伊戈尔.斯特拉文斯基</tspan></text><line class="ul" x1="154" y1="2652" x2="678" y2="2652"/></g>

<!-- ============ Branch 6 ============ -->
<g id="n_chengben"><rect class="mn" x="1122" y="2719" width="160" height="39" rx="5"/><text class="mt" x="1202" y="2744" text-anchor="middle">成本效益分析</text></g>
<g id="n_cb1"><text x="487" y="2711"><tspan class="bl b">保罗 迪拉克</tspan>在<tspan class="r b">26岁时获得诺贝尔物理学奖</tspan>（1928年），他写了一首著名的诗，正</text><text x="487" y="2729">阐明了这个观点：<tspan class="bl b">“当然，年龄是一个让人胆战心惊的东西/每个物理学家都害怕</tspan></text><text class="bl b" x="487" y="2747">它/当一个人超过30岁的时候/静静地活着还不如死去。”</text><line class="ul" x1="478" y1="2752" x2="1092" y2="2752"/></g>
<g id="n_cb2"><text x="1082" y="2777" text-anchor="end">一个积极正面的家庭的最大价值在于，它能使一个人能更早开始发展。</text><line class="ul" x1="588" y1="2783" x2="1092" y2="2783"/></g>

<!-- ============ Branch 7 ============ -->
<g id="n_jiqing"><rect class="mn" x="1083" y="2954" width="198" height="39" rx="5"/><text class="mt" x="1182" y="2979" text-anchor="middle">激情是真正的动力</text></g>
<g id="n_dj"><rect x="27" y="2937" width="438" height="73" rx="4" fill="#7030A0" stroke="#8FA4CF" stroke-width="1.2"/><path d="M465 2963 L477 2973 L465 2983 Z" fill="#7030A0"/><text class="wh" x="36" y="2958"><tspan class="yl">顶尖高手</tspan>，他们能意识到自己需要做什么，才能达到最高</text><text class="wh" x="36" y="2979">水平，他们已不满足仅仅得到他人的赞赏，更多的是内在动</text><text class="wh" x="36" y="3000">力在激励他们。</text></g>
<g id="n_nz"><text class="bl" x="976" y="2935">内在动力</text><line class="ul" x1="958" y1="2941" x2="1060" y2="2941"/></g>
<g id="n_nz1"><text x="928" y="2850" text-anchor="end"><tspan class="r">内在动力</tspan>和<tspan class="r">刻意练习</tspan>的需求练习在一起，形成一种特定的机制</text><line class="ul" x1="487" y1="2856" x2="938" y2="2856"/></g>
<g id="n_nz2"><rect class="yb" x="510" y="2863" width="424" height="43"/><line class="ul" x1="510" y1="2906" x2="934" y2="2906"/><text x="516" y="2879"><tspan class="bl b">心流：</tspan>一个人完全沉浸于某项工作，时间仿佛缓慢下来，</text><text x="516" y="2898">人的心情变得非常愉快，工作似乎不费吹灰之力。</text></g>
<g id="n_nz3"><rect class="yb" x="715" y="2914" width="219" height="23"/><line class="ul" x1="715" y1="2937" x2="934" y2="2937"/><text x="721" y="2931"><tspan class="bl">心流概念</tspan>是<tspan class="r">不懈练习的动力</tspan></text></g>
<g id="n_nz4"><text x="522" y="2966"><tspan class="bl b">乘数效应：</tspan>能力的每一点增加，都会带来更好的环境，然</text><text x="522" y="2984">后，更好的环境又会使他们的能力得到进一步提升。</text><line class="ul" x1="514" y1="2988" x2="938" y2="2988"/></g>
<g id="n_nz5"><text x="928" y="3014" text-anchor="end"><tspan class="bl">乘数效应</tspan>可以激发人的进取心</text><line class="ul" x1="709" y1="3020" x2="938" y2="3020"/></g>
<g id="n_wz"><text class="bl" x="973" y="3078">外在动力</text><line class="ul" x1="958" y1="3084" x2="1056" y2="3084"/></g>
<g id="n_wz1"><rect x="679" y="3028" width="251" height="24" fill="#C7D7E0"/><line class="ul" x1="679" y1="3052" x2="930" y2="3052"/><text x="686" y="3046">外在动力强化内在动力是很有效的</text></g>
<g id="n_wz2"><rect x="554" y="3060" width="376" height="24" fill="#B7DDE0"/><line class="ul" x1="554" y1="3084" x2="930" y2="3084"/><text x="560" y="3078">外在动力能帮助事情进行下去，起到激励和刺激作用</text></g>
<g id="n_wz3"><rect class="rb" x="644" y="3092" width="286" height="25"/><line class="ul" x1="644" y1="3117" x2="930" y2="3117"/><text class="wh" x="651" y="3110"><tspan class="yl">注：</tspan>有些外在动力有限制创造性的发展</text></g>

<!-- ============ Right: 大纲 ============ -->
<g id="n_dagang"><rect class="mn" x="1675" y="979" width="159" height="38" rx="5"/><text class="mt" x="1754" y="1004" text-anchor="middle">刻意练习大纲</text></g>
<g id="n_dg1"><text class="r" x="1875" y="906">大量的刻意练习=伟大成就</text><line class="ul" x1="1862" y1="912" x2="2079" y2="912"/></g>
<g id="n_dg2"><text x="1875" y="938">究竟需要练习什么？</text><line class="ul" x1="1862" y1="944" x2="2026" y2="944"/></g>
<g id="n_dg3"><text x="1875" y="971">如何做？</text><line class="ul" x1="1862" y1="977" x2="1949" y2="977"/></g>
<g id="n_dg4"><text x="1875" y="1002">需要掌握哪些特殊技能？</text><line class="ul" x1="1862" y1="1008" x2="2057" y2="1008"/></g>
<g id="n_dg5"><text x="1875" y="1035">必需的激情来自哪里？</text><line class="ul" x1="1862" y1="1041" x2="2043" y2="1041"/></g>
<g id="n_dg6"><text x="1875" y="1068"><tspan class="bl b">【困难点】</tspan>最重要的障碍是思维上的，需</text><text x="1875" y="1086">要高度集中注意力，同时会让人疲惫不堪，</text><text x="1875" y="1104">甚至还要数十年如一日的重复这个过程。</text><line class="ul" x1="1862" y1="1108" x2="2184" y2="1108"/></g>

<!-- ============ Right: 稀缺资源 ============ -->
<g id="n_xique"><rect class="mn" x="1675" y="1195" width="248" height="88" rx="5"/>
<text class="wh b" x="1686" y="1219">稀缺资源不再是钱，而是人</text>
<text class="wh b" x="1686" y="1238">的能力，使用少量金融资</text>
<text class="wh b" x="1686" y="1257">本，大量人力资本创造惊人</text>
<text class="wh b" x="1686" y="1276">财富的商业模式很多</text></g>
<g id="n_xq1"><text x="1972" y="1198">【微软】用300亿美元资本，创造了大约2210亿美元</text><line class="ul" x1="1950" y1="1204" x2="2334" y2="1204"/></g>
<g id="n_xq2"><text x="1972" y="1231">【谷歌】用50亿美元资本，创造了1240亿美元</text><line class="ul" x1="1950" y1="1237" x2="2290" y2="1237"/></g>
<g id="n_xq3"><text x="1972" y="1295">【百事】用340亿美元资本，只创造730亿美元</text><line class="ul" x1="1950" y1="1301" x2="2300" y2="1301"/></g>
<g id="n_xq4"><text x="1972" y="1327">【宝洁】用80亿美元资本，只创造1260亿美元</text><line class="ul" x1="1950" y1="1333" x2="2300" y2="1333"/></g>
<g id="n_xq_sum"><rect x="2361" y="1183" width="284" height="49" rx="22" fill="#FFFFFF" stroke="#7EA6CC" stroke-width="1.5"/><text x="2377" y="1203">他们说公司的<tspan class="r b">【核心能力是招</tspan></text><text x="2377" y="1223"><tspan class="r b">聘】</tspan>，他们很清楚稀缺资源是什么</text></g>
<g id="n_ty"><rect x="2677" y="1187" width="166" height="42" fill="#0070C0"/><line class="ul" x1="2677" y1="1229" x2="2843" y2="1229"/><text class="wh b" x="2684" y="1204">【通用公司】寻找</text><text class="wh b" x="2684" y="1223">的人具有4个特征：</text></g>
<g id="n_ty1"><text x="2885" y="1167">精力</text><line class="ul" x1="2864" y1="1173" x2="2927" y2="1173"/></g>
<g id="n_ty2"><text x="2885" y="1198">能激励别人</text><line class="ul" x1="2864" y1="1204" x2="2973" y2="1204"/></g>
<g id="n_ty3"><text x="2885" y="1231">决断力</text><line class="ul" x1="2864" y1="1237" x2="2940" y2="1237"/></g>
<g id="n_ty4"><text x="2885" y="1262">执行力</text><line class="ul" x1="2864" y1="1268" x2="2940" y2="1268"/></g>

<!-- ============ Right: 对天赋的误解 ============ -->
<g id="n_tianfu_wj"><rect class="mn" x="1674" y="1629" width="159" height="38" rx="5"/><text class="mt" x="1753" y="1654" text-anchor="middle">对天赋的误解</text></g>
<g id="n_tf"><rect class="ob" x="1867" y="1444" width="58" height="26"/><line class="ul" x1="1867" y1="1470" x2="1925" y2="1470"/><text class="mt" x="1878" y="1464">天赋</text></g>
<g id="n_tf1"><rect class="yb" x="1958" y="1372" width="371" height="24"/><line class="ul" x1="1958" y1="1396" x2="2329" y2="1396"/><text class="b" x="1965" y="1390">它是一种让你比大多数人都做得更好的<tspan class="r">自然能力</tspan></text></g>
<g id="n_tf2"><text x="1965" y="1422">几乎存在任何领域</text><line class="ul" x1="1957" y1="1428" x2="2103" y2="1428"/></g>
<g id="n_tf3"><text x="1965" y="1454">人们生来具有相似的能力，只不过这些能力在他们生命</text><text x="1965" y="1472">的过程中被发展到不同程度而已</text><line class="ul" x1="1957" y1="1478" x2="2355" y2="1478"/></g>
<g id="n_tf4"><text x="1965" y="1504">人的成就高低，主要由他们练习的程度决定</text><line class="ul" x1="1957" y1="1510" x2="2272" y2="1510"/></g>
<g id="n_tf5"><rect class="rb" x="1958" y="1518" width="204" height="24"/><line class="ul" x1="1958" y1="1542" x2="2162" y2="1542"/><text class="wh b" x="1965" y="1536">天赋并非天生赋予的才华</text></g>
<g id="n_tc"><rect class="ob" x="1867" y="1714" width="104" height="46"/><line class="ul" x1="1867" y1="1760" x2="1971" y2="1760"/><text class="mt" x="1877" y="1733">天才们的</text><text class="mt" x="1877" y="1754">成长经历</text></g>
<g id="n_tc1"><rect class="yb" x="2003" y="1551" width="504" height="24"/><line class="ul" x1="2003" y1="1575" x2="2507" y2="1575"/><text class="b" x="2010" y="1569">目前没有证据能证明人的某个特别基因组与某种天赋能联系在一起</text></g>
<g id="n_tc2"><text x="2000" y="1600"><tspan class="b">例：</tspan><tspan class="r">【莫扎特】</tspan>是通过令人震惊的辛苦努力才成为莫扎特</text><line class="ul" x1="1992" y1="1606" x2="2419" y2="1606"/></g>
<g id="n_tc3"><text x="2000" y="1632"><tspan class="b">例：</tspan><tspan class="r">【伍兹】</tspan>被问及取得非凡成就的原因是，</text><text x="2000" y="1650">父亲和儿子给出相同的回答：“努力练习”</text><line class="ul" x1="1992" y1="1656" x2="2341" y2="1656"/></g>
<g id="n_tc4"><text x="2000" y="1683"><tspan class="b">例：</tspan><tspan class="r">【韦尔奇】</tspan>他在伊利诺伊大学获得化学专业的硕士和博士学位，当他步入</text><text x="2000" y="1701">社会的时候已经25岁了，但他仍然无法确定自己的方向，他曾在雪城大学和西</text><text x="2000" y="1719">弗吉尼亚大学寻找教职，后来决定到通用电气公司从事化学药品的研发工作。</text><line class="ul" x1="1992" y1="1724" x2="2561" y2="1724"/></g>
<g id="n_tc5"><text x="2000" y="1751"><tspan class="b">例：</tspan><tspan class="r">【比尔 盖茨】</tspan>他的软件技术不可能是其成功的关键，成功的关键在于创</text><text x="2000" y="1769">办和经营一个大企业的种种能力</text><line class="ul" x1="1992" y1="1774" x2="2560" y2="1774"/></g>
<g id="n_tc6"><text x="2000" y="1801"><tspan class="b">例：</tspan><tspan class="r">【洛克菲勒】</tspan>辅导过年幼的洛克菲勒的女士回忆：“我不记得洛克菲勒在什么事</text><text x="2000" y="1819">情上有过杰出表现，我只记得他做每件事都很努力。他话不多，但学习非常勤奋”</text><line class="ul" x1="1992" y1="1824" x2="2614" y2="1824"/></g>
<g id="n_tc7"><text x="2000" y="1850"><tspan class="b">例:</tspan><tspan class="r">【巴菲特】</tspan>巴菲特父亲是股票经纪人和投资者，而小巴菲特又非常崇拜他的父</text><text x="2000" y="1868">亲，那么他对股票和投资的痴迷就不令人惊奇了。巴菲特11岁时就在他父亲的公司工</text><text x="2000" y="1886">作，所以他很小就能了解投资，但并没有证据表明他很小就对投资理财非常在行。</text><line class="ul" x1="1992" y1="1893" x2="2607" y2="1893"/></g>
<g id="n_tc8"><rect class="yb" x="2003" y="1900" width="638" height="24"/><line class="ul" x1="2003" y1="1924" x2="2641" y2="1924"/><text class="b" x="2010" y="1918"><tspan class="r">【天赋】</tspan>远非我们通常认为的那样重要，更没有如我们所想的那样起到决定性作用。</text></g>

<!-- ============ Right: 智力 ============ -->
<g id="n_zhili"><rect class="mn" x="1676" y="2034" width="204" height="36" rx="5"/><text class="mt" x="1778" y="2058" text-anchor="middle">智力和成就的关系</text></g>
<g id="n_zl1"><rect class="yb" x="1906" y="1966" width="454" height="24"/><line class="ul" x1="1906" y1="1990" x2="2360" y2="1990"/><text class="b" x="1913" y="1984">普通人拥有非凡的潜能，经过训练可以拥有令人惊异的能力</text></g>
<g id="n_zl2"><rect class="pk" x="1906" y="1998" width="444" height="42"/><line class="ul" x1="1906" y1="2040" x2="2350" y2="2040"/><text x="1913" y="2014">IQ(智商)测试由10个子项组成，涵盖了信息、算术、词汇、</text><text x="1913" y="2033">理解、制图、分组设计、物体装配、译码、图像排列、类比）</text></g>
<g id="n_zl3"><rect class="pk" x="1906" y="2048" width="364" height="24"/><line class="ul" x1="1906" y1="2072" x2="2270" y2="2072"/><text x="1913" y="2066">EQ(情商)也包括许多因素（自控力、热诚、坚韧）</text></g>
<g id="n_zl4"><text x="1913" y="2096">勤奋能让一切变的不同</text><line class="ul" x1="1906" y1="2102" x2="2080" y2="2102"/></g>
<g id="n_zl5"><rect class="yb" x="1906" y="2112" width="338" height="24"/><line class="ul" x1="1906" y1="2136" x2="2244" y2="2136"/><text class="b" x="1913" y="2130">智力和记忆力对高成就的能起到真正的作用</text></g>

<!-- ============ Right: 卓越 ============ -->
<g id="n_zhuoyue"><rect class="mn" x="1676" y="2200" width="258" height="36" rx="5"/><text class="mt" x="1805" y="2224" text-anchor="middle">卓越并非来自简单的重复</text></g>
<g id="n_zy1"><text x="1970" y="2194">勤奋能让一切变得不同</text><line class="ul" x1="1960" y1="2200" x2="2140" y2="2200"/></g>
<g id="n_zy2"><text x="1970" y="2226">针对自己的特殊需要设计练习</text><line class="ul" x1="1960" y1="2232" x2="2180" y2="2232"/></g>
<g id="n_zy3"><text x="1970" y="2258">练习的益处是累积的</text><line class="ul" x1="1960" y1="2264" x2="2118" y2="2264"/></g>
<g id="n_zy4"><rect class="rb" x="2140" y="2240" width="346" height="24"/><line class="ul" x1="2140" y1="2264" x2="2486" y2="2264"/><text class="wh b" x="2147" y="2258">简单的“熟能生巧”并非高强度的“刻意练习”</text></g>

<!-- collapse markers -->
<g id="markers">
<use href="#m" x="1112" y="332"/><use href="#m" x="1020" y="101"/><use href="#m" x="1020" y="411"/>
<use href="#m" x="789" y="253"/><use href="#m" x="867" y="360"/><use href="#m" x="597" y="375"/>
<use href="#m" x="901" y="425"/><use href="#m" x="699" y="425"/><use href="#m" x="850" y="509"/><use href="#m" x="754" y="600"/>
<use href="#m" x="1036" y="935"/><use href="#m" x="915" y="814"/><use href="#m" x="915" y="1083"/><use href="#m" x="915" y="1156"/>
<use href="#m" x="1111" y="1506"/><use href="#m" x="991" y="1277"/><use href="#m" x="976" y="1415"/>
<use href="#m" x="813" y="1367"/><use href="#m" x="813" y="1448"/><use href="#m" x="813" y="1497"/><use href="#m" x="959" y="1660"/>
<use href="#m" x="1093" y="2112"/><use href="#m" x="685" y="2022"/><use href="#m" x="940" y="2205"/><use href="#m" x="1006" y="2327"/><use href="#m" x="772" y="2327"/>
<use href="#m" x="1054" y="2547"/><use href="#m" x="670" y="2632"/><use href="#m" x="1112" y="2737"/>
<use href="#m" x="1073" y="2974"/><use href="#m" x="958" y="2925"/><use href="#m" x="954" y="3072"/>
<use href="#m" x="1842" y="997"/><use href="#m" x="1931" y="1239"/><use href="#m" x="2654" y="1208"/><use href="#m" x="2850" y="1208"/>
<use href="#m" x="1842" y="1647"/><use href="#m" x="1934" y="1457"/><use href="#m" x="1979" y="1737"/>
<use href="#m" x="1890" y="2054"/><use href="#m" x="1942" y="2218"/><use href="#m" x="2126" y="2252"/>
</g>
</svg>
